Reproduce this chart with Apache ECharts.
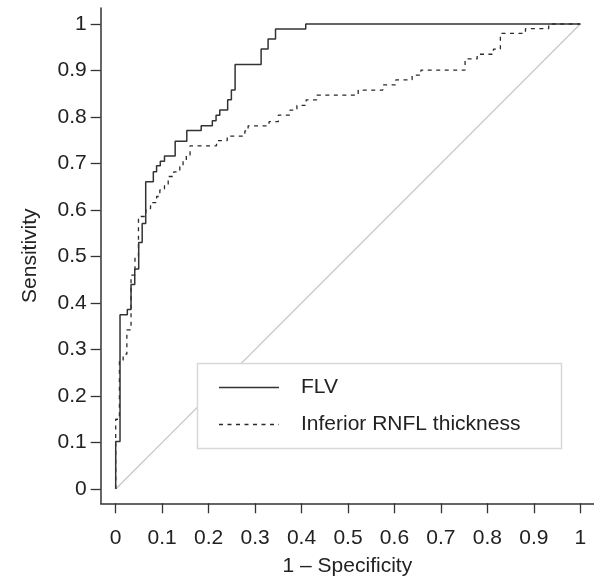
<!DOCTYPE html>
<html>
<head>
<meta charset="utf-8">
<script src="https://cdn.jsdelivr.net/npm/echarts@6/dist/echarts.min.js"></script>
<style>html,body{margin:0;padding:0;background:#fff;}#c{width:594px;height:579px;}</style>
</head>
<body>
<div id="c"></div>
<script>
// ROC points (1 - specificity, sensitivity); each point is the top of a vertical rise
var flvX = [0, 0, 0.0093, 0.025, 0.033, 0.041, 0.0495, 0.057, 0.0646, 0.081, 0.088, 0.096, 0.105, 0.128, 0.153, 0.184, 0.208, 0.216, 0.224, 0.241, 0.249, 0.257, 0.313, 0.328, 0.344, 0.409, 1];
var flvY = [0, 0.102, 0.375, 0.386, 0.44, 0.473, 0.53, 0.571, 0.661, 0.682, 0.695, 0.705, 0.716, 0.748, 0.771, 0.781, 0.792, 0.804, 0.815, 0.837, 0.858, 0.913, 0.946, 0.968, 0.989, 1.0, 1.0];
var rnflX = [0, 0, 0.008, 0.016, 0.024, 0.033, 0.0415, 0.049, 0.065, 0.075, 0.088, 0.095, 0.105, 0.113, 0.125, 0.138, 0.145, 0.152, 0.16, 0.217, 0.24, 0.278, 0.285, 0.33, 0.35, 0.375, 0.39, 0.41, 0.433, 0.522, 0.575, 0.603, 0.638, 0.657, 0.752, 0.778, 0.813, 0.828, 0.882, 0.932, 1];
var rnflY = [0, 0.15, 0.277, 0.29, 0.342, 0.46, 0.50, 0.586, 0.603, 0.616, 0.629, 0.643, 0.654, 0.672, 0.682, 0.693, 0.705, 0.718, 0.738, 0.749, 0.759, 0.77, 0.781, 0.79, 0.804, 0.815, 0.825, 0.837, 0.847, 0.858, 0.869, 0.88, 0.89, 0.901, 0.925, 0.935, 0.946, 0.98, 0.99, 1.0, 1.0];
var refX = [0, 1];
var refY = [0, 1];
var tickValues = [0, 0.1, 0.2, 0.3, 0.4, 0.5, 0.6, 0.7, 0.8, 0.9, 1];
var tickLabels = ['0', '0.1', '0.2', '0.3', '0.4', '0.5', '0.6', '0.7', '0.8', '0.9', '1'];
var seriesNames = ['FLV', 'Inferior RNFL thickness'];
var xTitle = '1 \u2013 Specificity';
var yTitle = 'Sensitivity';

function pairs(xs, ys) { return xs.map(function (x, i) { return [x, ys[i]]; }); }
function lab(v) { var i = tickValues.indexOf(v); return i >= 0 ? tickLabels[i] : ''; }

var FONT = '"Liberation Sans", Arial, Helvetica, sans-serif';
var FS = 21;
var chart = echarts.init(document.getElementById('c'), null, { renderer: 'canvas' });
var axisCommon = {
  type: 'value',
  splitLine: { show: false },
  axisLine: { show: true, onZero: false, lineStyle: { color: '#333', width: 1.5 } },
  axisTick: { show: true, inside: false, length: 10, customValues: tickValues, lineStyle: { color: '#333', width: 1.3 } },
  axisLabel: { customValues: tickValues, formatter: lab, color: '#222', fontSize: FS, fontFamily: FONT, showMinLabel: true, showMaxLabel: true, hideOverlap: false },
  nameLocation: 'middle',
  nameTextStyle: { color: '#222', fontSize: FS, fontFamily: FONT }
};
chart.setOption({
  animation: false,
  backgroundColor: '#fff',
  grid: { left: 100.7, top: 8, width: 493.3, height: 495.3, containLabel: false, outerBoundsMode: 'none' },
  xAxis: Object.assign({}, axisCommon, {
    min: -0.03229, max: 1.02949,
    name: xTitle, nameGap: 52,
    axisLabel: Object.assign({}, axisCommon.axisLabel, { margin: 24 })
  }),
  yAxis: Object.assign({}, axisCommon, {
    min: -0.03075, max: 1.03441,
    name: yTitle, nameGap: 60,
    axisLabel: Object.assign({}, axisCommon.axisLabel, { margin: 14 })
  }),
  series: [
    { type: 'line', data: pairs(refX, refY), showSymbol: false, silent: true, z: 1,
      lineStyle: { color: '#c8c8c8', width: 1.2 } },
    { name: seriesNames[1], type: 'line', step: 'end', data: pairs(rnflX, rnflY), showSymbol: false, z: 2,
      lineStyle: { color: '#2a2a2a', width: 1.3, type: [4, 4.5] } },
    { name: seriesNames[0], type: 'line', step: 'end', data: pairs(flvX, flvY), showSymbol: false, z: 3,
      lineStyle: { color: '#333', width: 1.5 } }
  ],
  graphic: [
    { type: 'rect', shape: { x: 197.5, y: 363.5, width: 364, height: 85 }, z: 10,
      style: { fill: '#fff', stroke: '#d8d8d8', lineWidth: 1.5 } },
    { type: 'line', shape: { x1: 219, y1: 387.5, x2: 279, y2: 387.5 }, z: 11,
      style: { stroke: '#333', lineWidth: 1.5 } },
    { type: 'line', shape: { x1: 219, y1: 424.5, x2: 279, y2: 424.5 }, z: 11,
      style: { stroke: '#2a2a2a', lineWidth: 1.3, lineDash: [4, 4.5] } },
    { type: 'text', x: 301, y: 387.5, z: 11,
      style: { text: seriesNames[0], fill: '#222', fontSize: FS, fontFamily: FONT, verticalAlign: 'middle', align: 'left' } },
    { type: 'text', x: 301, y: 424.5, z: 11,
      style: { text: seriesNames[1], fill: '#222', fontSize: FS, fontFamily: FONT, verticalAlign: 'middle', align: 'left' } }
  ]
});
</script>
</body>
</html>
